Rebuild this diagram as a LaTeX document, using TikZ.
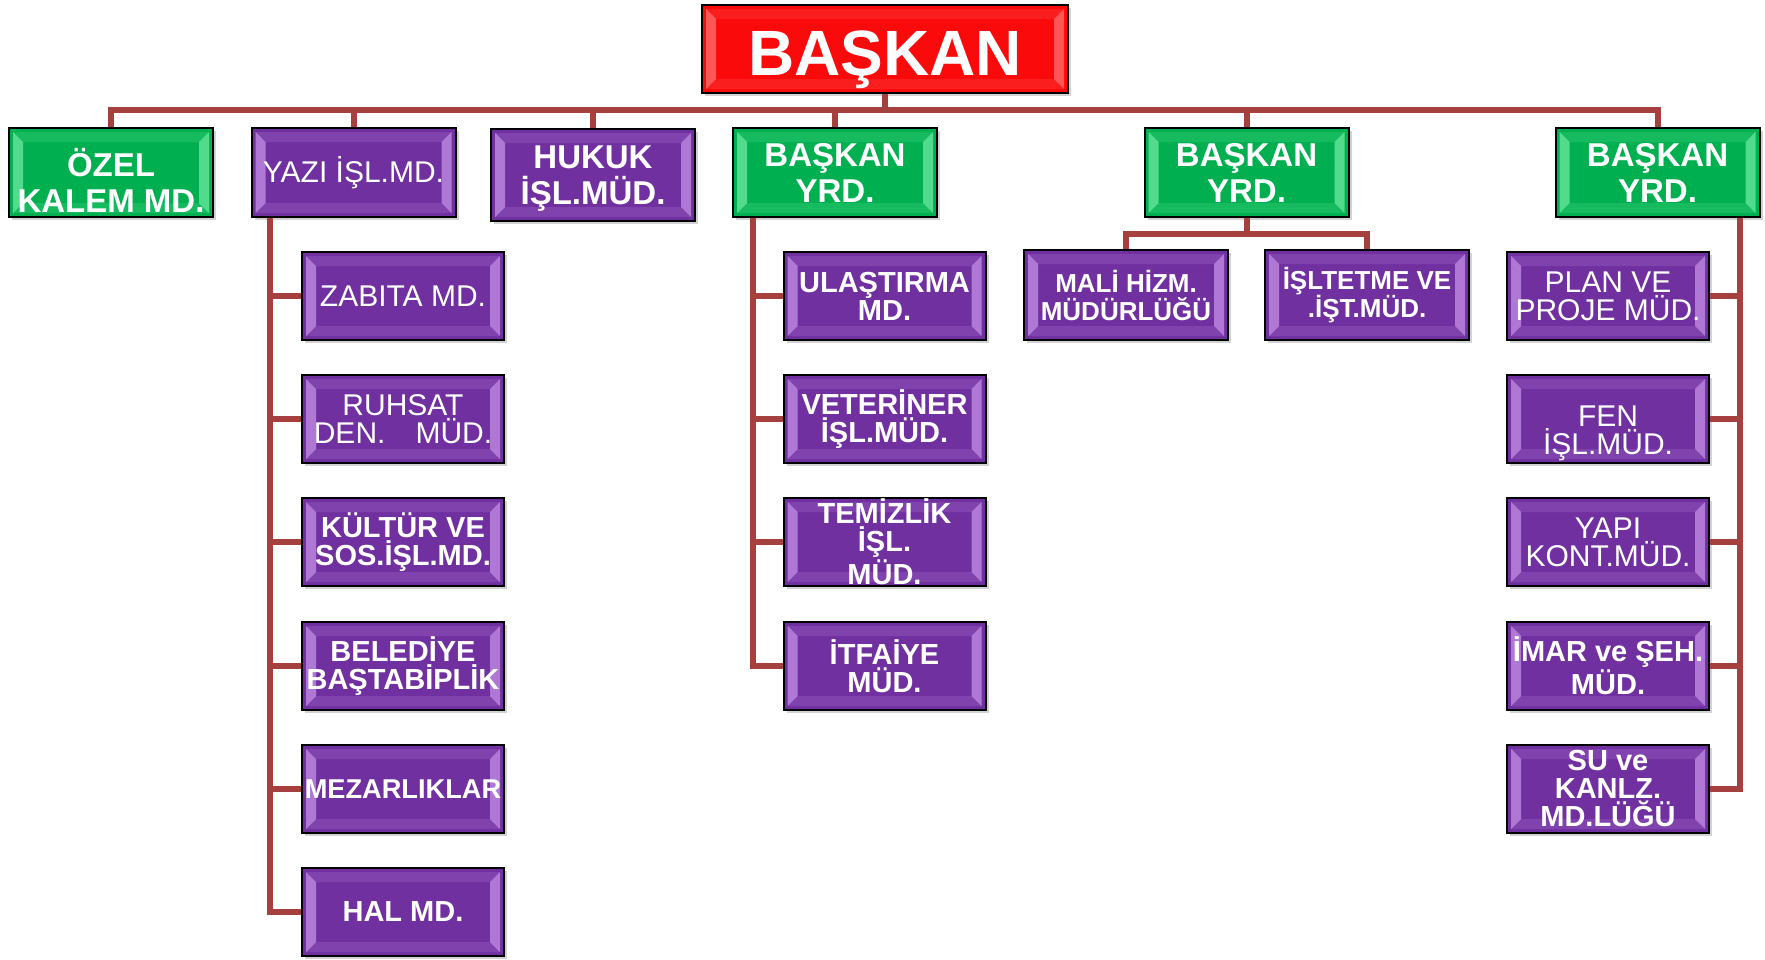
\documentclass[tikz,border=0pt]{standalone}
\usepackage{fontspec}
\setmainfont{Liberation Sans}
\usetikzlibrary{shadows,calc}
\definecolor{grn}{RGB}{0,176,80}
\definecolor{grnlight}{RGB}{150,255,190}
\definecolor{pur}{RGB}{112,48,160}
\definecolor{purlight}{RGB}{225,180,255}
\definecolor{redbox}{RGB}{250,10,10}
\definecolor{redlight}{RGB}{255,150,150}
\definecolor{conncol}{RGB}{165,64,62}
\newcommand{\bevelbands}[1]{%
  \fill[#1,opacity=0.55] ([shift={(2pt,-2pt)}]path picture bounding box.north west) -- ([shift={(7pt,-7pt)}]path picture bounding box.north west) -- ([shift={(7pt,7pt)}]path picture bounding box.south west) -- ([shift={(2pt,2pt)}]path picture bounding box.south west) -- cycle;
  \fill[#1,opacity=0.55] ([shift={(-2pt,-2pt)}]path picture bounding box.north east) -- ([shift={(-7pt,-7pt)}]path picture bounding box.north east) -- ([shift={(-7pt,7pt)}]path picture bounding box.south east) -- ([shift={(-2pt,2pt)}]path picture bounding box.south east) -- cycle;
  \fill[#1,opacity=0.15] ([shift={(2pt,-2pt)}]path picture bounding box.north west) -- ([shift={(-2pt,-2pt)}]path picture bounding box.north east) -- ([shift={(-7pt,-7pt)}]path picture bounding box.north east) -- ([shift={(7pt,-7pt)}]path picture bounding box.north west) -- cycle;
  \fill[#1,opacity=0.15] ([shift={(2pt,2pt)}]path picture bounding box.south west) -- ([shift={(-2pt,2pt)}]path picture bounding box.south east) -- ([shift={(-7pt,7pt)}]path picture bounding box.south east) -- ([shift={(7pt,7pt)}]path picture bounding box.south west) -- cycle;
}
\tikzset{
  orgbox/.style={draw=black, line width=1pt, inner sep=0pt, align=center, text=white,
    drop shadow={shadow xshift=1.5pt, shadow yshift=-1.5pt, opacity=0.35}},
  greenbox/.style={orgbox, fill=grn, path picture={\bevelbands{grnlight}},
    minimum width=102pt, minimum height=44.5pt, font=\fontsize{16.5}{18}\selectfont\bfseries},
  purmain/.style={orgbox, fill=pur, path picture={\bevelbands{purlight}},
    minimum width=102pt, minimum height=44.5pt, font=\fontsize{16.5}{18}\selectfont\bfseries},
  childbold/.style={orgbox, fill=pur, path picture={\bevelbands{purlight}},
    minimum width=101pt, minimum height=44pt, font=\fontsize{14.5}{14}\selectfont\bfseries},
  childreg/.style={orgbox, fill=pur, path picture={\bevelbands{purlight}},
    minimum width=101pt, minimum height=44pt, font=\fontsize{15}{14}\selectfont},
  smallbold/.style={orgbox, fill=pur, path picture={\bevelbands{purlight}},
    minimum width=102pt, minimum height=45pt, font=\fontsize{13}{14}\selectfont\bfseries},
  topbox/.style={orgbox, fill=redbox, path picture={\bevelbands{redlight}},
    minimum width=183pt, minimum height=44pt},
  intext/.style={text=white, align=center},
  conn/.style={draw=conncol, line width=3pt},
}
\begin{document}
\begin{tikzpicture}[x=0.5pt, y=-0.5pt]
\useasboundingbox (0,0) rectangle (1765,959);
\fill[white] (0,0) rectangle (1765,959);

\coordinate (bus) at (0,110);
\coordinate (midbus) at (0,234);
\coordinate (yx) at (270,0);
\coordinate (mx) at (753,0);
\coordinate (rx) at (1740,0);

% boxes
\node[topbox, label={[intext, font=\fontsize{32}{32}\selectfont\bfseries, yshift=-5.5pt]center:BAŞKAN}] (top) at (885,49) {};
\node[greenbox, label={[intext, font=\fontsize{16.5}{18}\selectfont\bfseries, yshift=-4pt]center:ÖZEL\\KALEM MD.}] (ozel) at (111,172.5) {};
\node[purmain, font=\fontsize{15}{18}\selectfont] (yazi) at (353.5,172.5) {YAZI İŞL.MD.};
\node[purmain, minimum height=46pt, label={[intext, font=\fontsize{16.5}{18}\selectfont\bfseries, yshift=-2pt]center:HUKUK\\İŞL.MÜD.}] (hukuk) at (593,175) {};
\node[greenbox] (yrdA) at (835,172.5) {BAŞKAN\\YRD.};
\node[greenbox] (yrdB) at (1246.5,172.5) {BAŞKAN\\YRD.};
\node[greenbox] (yrdC) at (1657.5,172.5) {BAŞKAN\\YRD.};

\node[childreg] (zab) at (403,296) {ZABITA MD.};
\node[childreg] (ruh) at (403,419) {RUHSAT\\DEN.\quad MÜD.};
\node[childbold] (kul) at (403,542) {KÜLTÜR VE\\SOS.İŞL.MD.};
\node[childbold] (bel) at (403,666) {BELEDİYE\\BAŞTABİPLİK};
\node[childbold, font=\fontsize{13.6}{14}\selectfont\bfseries] (mez) at (403,789) {MEZARLIKLAR};
\node[childbold] (hal) at (403,912) {HAL MD.};

\node[childbold] (ula) at (884.5,296) {ULAŞTIRMA\\MD.};
\node[childbold] (vet) at (884.5,419) {VETERİNER\\İŞL.MÜD.};
\node[childbold] (tem) at (884.5,542) {TEMİZLİK\\İŞL.\\MÜD.};
\node[childbold] (itf) at (884.5,666) {İTFAİYE\\MÜD.};

\node[smallbold] (mali) at (1126,295) {MALİ HİZM.\\MÜDÜRLÜĞÜ};
\node[smallbold] (islt) at (1367,295) {İŞLTETME VE\\.İŞT.MÜD.};

\node[childreg] (plan) at (1608,296) {PLAN VE\\PROJE MÜD.};
\node[childreg, label={[intext, font=\fontsize{15}{14}\selectfont, yshift=-7pt]center:FEN\\İŞL.MÜD.}] (fen) at (1608,419) {};
\node[childreg] (yapi) at (1608,542) {YAPI\\KONT.MÜD.};
\node[childbold] (imar) at (1608,666) {İMAR ve ŞEH.\\MÜD.};
\node[childbold] (su) at (1608,789) {SU ve\\KANLZ.\\MD.LÜĞÜ};

% connectors
\draw[conn] (top.south) -- (top.south |- bus);
\draw[conn] (ozel.north) -- (ozel.north |- bus) -- (yrdC.north |- bus) -- (yrdC.north);
\foreach \n in {yazi,hukuk,yrdA,yrdB} {\draw[conn] (\n.north |- bus) -- (\n.north);}

\draw[conn] (yazi.south -| yx) |- (hal.west);
\foreach \n in {zab,ruh,kul,bel,mez} {\draw[conn] (\n.west -| yx) -- (\n.west);}

\draw[conn] (yrdA.south -| mx) |- (itf.west);
\foreach \n in {ula,vet,tem} {\draw[conn] (\n.west -| mx) -- (\n.west);}

\draw[conn] (yrdB.south) -- (yrdB.south |- midbus);
\draw[conn] (mali.north) -- (mali.north |- midbus) -- (islt.north |- midbus) -- (islt.north);

\draw[conn] (yrdC.south -| rx) |- (su.east);
\foreach \n in {plan,fen,yapi,imar} {\draw[conn] (\n.east) -- (\n.east -| rx);}
\end{tikzpicture}
\end{document}
